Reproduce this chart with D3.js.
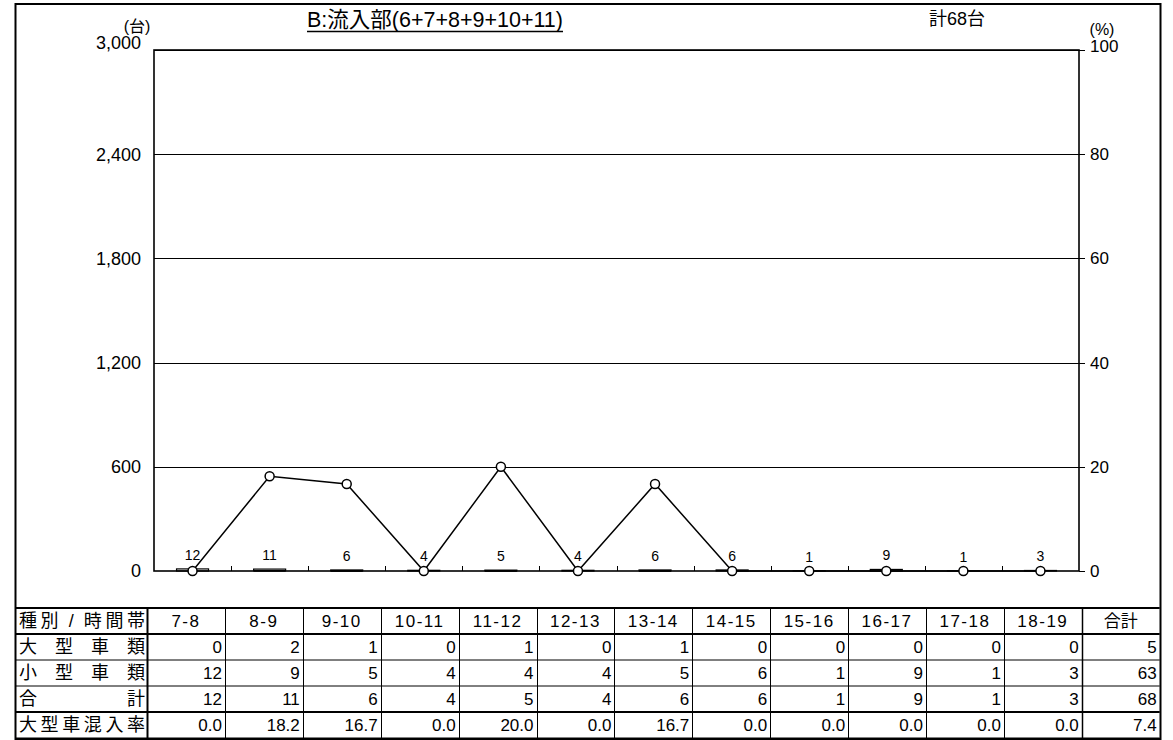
<!DOCTYPE html>
<html><head><meta charset="utf-8">
<script src="https://cdn.jsdelivr.net/npm/d3@7"></script>
<style>
html,body{margin:0;padding:0;background:#fff;}
svg{display:block;}
text{font-family:"Liberation Sans","Noto Sans CJK JP",sans-serif;fill:#000;}
</style></head>
<body>
<svg id="c" width="1173" height="740"></svg>
<script>
const categories = ["7-8","8-9","9-10","10-11","11-12","12-13","13-14","14-15","15-16","16-17","17-18","18-19"];
const largeVehicles = [0,2,1,0,1,0,1,0,0,0,0,0];
const smallVehicles = [12,9,5,4,4,4,5,6,1,9,1,3];
const totalVehicles = [12,11,6,4,5,4,6,6,1,9,1,3];
const mixRate = [0.0,18.2,16.7,0.0,20.0,0.0,16.7,0.0,0.0,0.0,0.0,0.0];
const grandTotals = {large:5, small:63, total:68, rate:7.4};
const leftTicks = [0,600,1200,1800,2400,3000];
const rightTicks = [0,20,40,60,80,100];
const rowLabels = ["大型車類","小型車類","合計","大型車混入率"];
const headerLabel = "種別/時間帯";
const titleText = "B:流入部(6+7+8+9+10+11)";
const totalText = "計68台";

const svg = d3.select("#c");
const P = {l:154, r:1079, t:50, b:571};
const x = d3.scaleBand().domain(categories).range([P.l,P.r]).padding(0);
const yL = d3.scaleLinear().domain([0,3000]).range([P.b,P.t]);
const yR = d3.scaleLinear().domain([0,100]).range([P.b,P.t]);
const FS = 17;

// outer frame
svg.append("rect").attr("x",15.5).attr("y",4).attr("width",1145).attr("height",735)
  .attr("fill","none").attr("stroke","#000").attr("stroke-width",2);

// gridlines
svg.append("g").selectAll("line").data(leftTicks.filter(d=>d>0)).join("line")
  .attr("x1",P.l).attr("x2",P.r+6).attr("y1",d=>Math.round(yL(d))+0.5).attr("y2",d=>Math.round(yL(d))+0.5)
  .attr("stroke","#000").attr("stroke-width",1);
svg.append("line").attr("x1",P.r).attr("x2",P.r+6).attr("y1",P.b+0.5).attr("y2",P.b+0.5).attr("stroke","#000");

// left labels
svg.append("g").selectAll("text").data(leftTicks).join("text")
  .attr("x",141).attr("y",d=>d===3000?yL(d)-7:yL(d)).attr("dy","0.35em")
  .attr("text-anchor","end").attr("font-size",18).text(d=>d3.format(",")(d));
svg.append("text").attr("x",137).attr("y",26).attr("dy","0.35em").attr("text-anchor","middle").attr("font-size",16).text("(台)");
// right labels
svg.append("g").selectAll("text").data(rightTicks).join("text")
  .attr("x",1090).attr("y",d=>d===100?yR(d)-4:yR(d)).attr("dy","0.35em")
  .attr("text-anchor","start").attr("font-size",FS).text(d=>d);
svg.append("text").attr("x",1102).attr("y",29).attr("dy","0.35em").attr("text-anchor","middle").attr("font-size",16).text("(%)");

// title
const tt = svg.append("text").attr("x",435).attr("y",27).attr("text-anchor","middle").attr("font-size",21.5).text(titleText);
const bb = tt.node().getBBox();
svg.append("line").attr("x1",bb.x).attr("x2",bb.x+bb.width).attr("y1",31.5).attr("y2",31.5).attr("stroke","#000").attr("stroke-width",1.3);
svg.append("text").attr("x",957).attr("y",25).attr("text-anchor","middle").attr("font-size",18).text(totalText);

// bars (stacked: large bottom black, small white outlined)
const bw = 32;
const bars = svg.append("g");
categories.forEach((c,i)=>{
  const cx = x(c)+x.bandwidth()/2;
  const l = largeVehicles[i], s = smallVehicles[i];
  bars.append("rect").attr("x",cx-bw/2).attr("width",bw)
    .attr("y",yL(l+s)).attr("height",Math.max(0,yL(l)-yL(l+s)))
    .attr("fill","#fff").attr("stroke","#000").attr("stroke-width",1.2);
  if(l>0) bars.append("rect").attr("x",cx-bw/2).attr("width",bw)
    .attr("y",yL(l)).attr("height",Math.max(1,yL(0)-yL(l))).attr("fill","#000");
});
// bar labels
svg.append("g").selectAll("text").data(categories).join("text")
  .attr("x",c=>x(c)+x.bandwidth()/2).attr("y",(c,i)=>yL(totalVehicles[i])-9)
  .attr("text-anchor","middle").attr("font-size",14).text((c,i)=>totalVehicles[i]);

// axes frame
svg.append("rect").attr("x",P.l).attr("y",P.t).attr("width",P.r-P.l).attr("height",P.b-P.t)
  .attr("fill","none").attr("stroke","#000").attr("stroke-width",1.6);
svg.append("g").selectAll("line").data(categories.slice(1)).join("line")
  .attr("x1",c=>Math.round(x(c))+0.5).attr("x2",c=>Math.round(x(c))+0.5)
  .attr("y1",P.b).attr("y2",P.b-5).attr("stroke","#000");

// line series
const line = d3.line().x((d,i)=>x(categories[i])+x.bandwidth()/2).y(d=>yR(d));
svg.append("path").datum(mixRate).attr("d",line).attr("fill","none").attr("stroke","#000").attr("stroke-width",1.5);
svg.append("g").selectAll("circle").data(mixRate).join("circle")
  .attr("cx",(d,i)=>x(categories[i])+x.bandwidth()/2).attr("cy",d=>yR(d)).attr("r",4.5)
  .attr("fill","#fff").attr("stroke","#000").attr("stroke-width",1.5);

// table
const T = {x0:16, c0:147, cw:77.9, top:608, hh:26, rh:26};
const cols = categories.concat(["合計"]);
const nC = cols.length;
const tRight = T.c0 + nC*T.cw;
const rowsY = [T.top, T.top+T.hh];
for(let k=1;k<=4;k++) rowsY.push(T.top+T.hh+k*T.rh);
const tg = svg.append("g");
rowsY.forEach((yy,k)=>{
  const thick = (k===0||k===1||k===4);
  tg.append("line").attr("x1",T.x0).attr("x2",tRight).attr("y1",yy).attr("y2",yy)
    .attr("stroke","#000").attr("stroke-width",thick?2:1);
});
for(let j=0;j<=nC;j++){
  const xx = Math.round(T.c0 + j*T.cw)+0.5;
  tg.append("line").attr("x1",xx).attr("x2",xx).attr("y1",T.top).attr("y2",rowsY[5])
    .attr("stroke","#000").attr("stroke-width",(j===0)?2:(j===nC-1?1.5:1));
}
cols.forEach((c,j)=>{
  tg.append("text").attr("x",T.c0+j*T.cw+T.cw/2).attr("y",T.top+T.hh/2).attr("dy","0.36em")
    .attr("text-anchor","middle").attr("font-size",FS).attr("letter-spacing",c==="合計"?0:1.5).text(c);
});
function spread(str, x0, x1, yy, fs){
  const ch = Array.from(str);
  const step = (x1-x0-fs)/(ch.length-1);
  ch.forEach((c,i)=>{
    tg.append("text").attr("x",x0+fs/2+i*step).attr("y",yy).attr("dy","0.36em")
      .attr("text-anchor","middle").attr("font-size",fs).text(c);
  });
}
spread(headerLabel, 19, 145, T.top+T.hh/2, 18);
rowLabels.forEach((lab,r)=>spread(lab, 19, 145, rowsY[r+1]+T.rh/2, 18));
const rowData = [
  largeVehicles.concat([grandTotals.large]).map(String),
  smallVehicles.concat([grandTotals.small]).map(String),
  totalVehicles.concat([grandTotals.total]).map(String),
  mixRate.concat([grandTotals.rate]).map(d=>d.toFixed(1))
];
rowData.forEach((row,r)=>{
  row.forEach((v,j)=>{
    tg.append("text").attr("x",T.c0+(j+1)*T.cw-3).attr("y",rowsY[r+1]+T.rh/2).attr("dy","0.36em")
      .attr("text-anchor","end").attr("font-size",FS).text(v);
  });
});
</script>
</body></html>
